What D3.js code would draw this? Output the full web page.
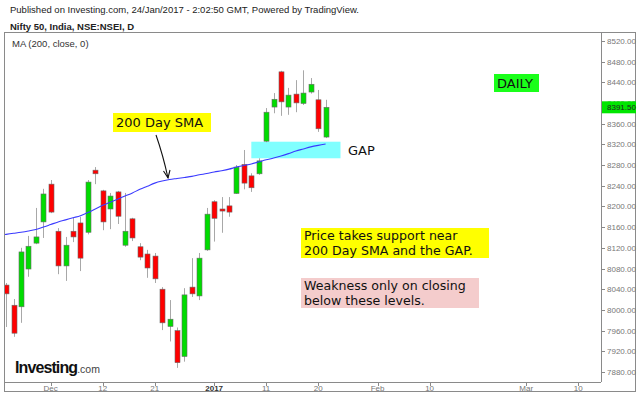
<!DOCTYPE html>
<html>
  <head>
    <meta charset="utf-8">
    <title>Nifty 50 daily</title>
    <script src="https://d3js.org/d3.v7.min.js"></script>
  </head>

  <style>
    body {
      margin: 0;
      background-color: white;
    }
    .head { font-family: 'Liberation Sans', Arial, sans-serif; fill: #222; }
    .tick { font-family: 'Liberation Sans', Arial, sans-serif; font-size: 8px; fill: #777; }
    .note { font-family: 'DejaVu Sans', Verdana, sans-serif; font-size: 13px; fill: #111; }
  </style>

  <body>
    <div id="chart"></div>
    <script>

    // trading days shown (Nov 22 is drawn but falls outside the left edge)
    var days = ['22 Nov', '23 Nov', '24 Nov', '25 Nov', '28 Nov', '29 Nov', '30 Nov',
      '1 Dec', '2 Dec', '5 Dec', '6 Dec', '7 Dec', '8 Dec', '9 Dec', '12 Dec', '13 Dec',
      '14 Dec', '15 Dec', '16 Dec', '19 Dec', '20 Dec', '21 Dec', '22 Dec', '23 Dec',
      '26 Dec', '27 Dec', '28 Dec', '29 Dec', '30 Dec', '2 Jan', '3 Jan', '4 Jan', '5 Jan',
      '6 Jan', '9 Jan', '10 Jan', '11 Jan', '12 Jan', '13 Jan', '16 Jan', '17 Jan',
      '18 Jan', '19 Jan', '20 Jan', '23 Jan'];
    var openP  = [7960, 8048, 8009, 8006, 8079, 8129, 8170, 8243, 8152, 8085, 8152, 8168,
      8150, 8270, 8230, 8195, 8228, 8125, 8176, 8122, 8108, 8104, 8040, 7968, 7960, 7910,
      8044, 8027, 8116, 8209, 8195, 8201, 8225, 8281, 8259, 8263, 8326, 8392, 8460, 8392,
      8417, 8399, 8421, 8406, 8334];
    var highP  = [8010, 8052, 8021, 8120, 8143, 8197, 8234, 8251, 8158, 8141, 8178, 8180,
      8251, 8276, 8232, 8226, 8230, 8226, 8178, 8129, 8116, 8110, 8044, 8019, 7966, 8042,
      8100, 8110, 8197, 8212, 8218, 8218, 8280, 8309, 8264, 8293, 8390, 8419, 8462, 8429,
      8444, 8463, 8448, 8425, 8406];
    var lowP   = [7950, 7967, 7948, 7975, 8064, 8127, 8139, 8187, 8069, 8056, 8131, 8075,
      8146, 8243, 8154, 8156, 8166, 8122, 8133, 8096, 8062, 8052, 7961, 7939, 7888, 7900,
      8025, 8019, 8114, 8132, 8149, 8180, 8224, 8233, 8228, 8261, 8324, 8380, 8375, 8377,
      8382, 8396, 8418, 8344, 8332];
    var closeP = [8002, 8031, 7955, 8112, 8123, 8141, 8224, 8189, 8085, 8125, 8141, 8100,
      8247, 8263, 8170, 8220, 8181, 8152, 8139, 8102, 8081, 8060, 7975, 7982, 7898, 8029,
      8031, 8100, 8185, 8177, 8191, 8189, 8276, 8245, 8236, 8288, 8382, 8407, 8402, 8415,
      8400, 8419, 8436, 8350, 8391.5];
    var sma200 = [8144, 8146, 8148, 8150, 8152.5, 8155.5, 8160, 8165, 8170, 8174, 8178,
      8182, 8188, 8195, 8202, 8208, 8214, 8220, 8226, 8233, 8239, 8245, 8249, 8252, 8254,
      8256, 8258, 8261, 8263.5, 8266.5, 8269, 8272, 8276, 8279, 8282, 8286, 8290, 8293.5,
      8297.5, 8302, 8307, 8311, 8315, 8318, 8320.5];

    // x axis labels and the bar slot they sit on (future slots count every weekday)
    var tickLabels = ['Dec', '12', '21', '2017', '11', '20', 'Feb', '10', 'Mar', '10'];
    var tickSlots  = [7, 14, 21, 29, 36, 43, 51, 58, 71, 78];
    var priceTicks = d3.range(7880, 8521, 40);
    var lastPrice = 8391.50;
    var gapLow = 8293, gapHigh = 8325, gapFrom = 34, gapTo = 46;

    var width = 640, height = 396;
    var plot = { left: 5, right: 601, top: 33, bottom: 382 };

    var xScale = d3.scaleLinear().domain([0, 80]).range([-1.3, -1.3 + 80 * 7.43]);
    var yScale = d3.scaleLinear().domain([7880, 8520]).range([372, 40.8]);
    var bodyW = 5;

    var svg = d3.select('#chart').append('svg')
      .attr('width', width)
      .attr('height', height);

    svg.append('rect').attr('width', width).attr('height', height).attr('fill', 'white');

    // header
    svg.append('text').attr('class', 'head')
      .attr('x', 10).attr('y', 13).style('font-size', '9.5px')
      .text('Published on Investing.com, 24/Jan/2017 - 2:02:50 GMT, Powered by TradingView.');
    svg.append('text').attr('class', 'head')
      .attr('x', 10).attr('y', 30).style('font-size', '9.5px').style('font-weight', 'bold')
      .text('Nifty 50, India, NSE:NSEI, D');

    // frame
    svg.append('rect')
      .attr('x', 4.5).attr('y', 32.5).attr('width', 631).attr('height', 359)
      .attr('fill', 'none').attr('stroke', '#8a8a8a');

    svg.append('defs').append('clipPath').attr('id', 'plotClip')
      .append('rect')
      .attr('x', plot.left).attr('y', plot.top)
      .attr('width', plot.right - plot.left).attr('height', plot.bottom - plot.top);

    var g = svg.append('g').attr('clip-path', 'url(#plotClip)');

    // gap zone
    g.append('rect')
      .attr('x', xScale(gapFrom)).attr('y', yScale(gapHigh))
      .attr('width', xScale(gapTo) - xScale(gapFrom))
      .attr('height', yScale(gapLow) - yScale(gapHigh))
      .attr('fill', '#80ffff');

    var idx = d3.range(days.length);

    // wicks
    g.selectAll('line.wick').data(idx).enter().append('line')
      .attr('class', 'wick')
      .attr('x1', function(i) { return Math.round(xScale(i)) + 0.5; })
      .attr('x2', function(i) { return Math.round(xScale(i)) + 0.5; })
      .attr('y1', function(i) { return yScale(highP[i]); })
      .attr('y2', function(i) { return yScale(lowP[i]); })
      .attr('stroke', '#a8a8a8')
      .attr('stroke-width', 1);

    // bodies
    g.selectAll('rect.body').data(idx).enter().append('rect')
      .attr('class', 'body')
      .attr('x', function(i) { return Math.round(xScale(i)) - 2; })
      .attr('y', function(i) { return yScale(Math.max(openP[i], closeP[i])); })
      .attr('width', bodyW)
      .attr('height', function(i) {
        return Math.max(1.5, Math.abs(yScale(openP[i]) - yScale(closeP[i])));
      })
      .attr('fill', function(i) { return closeP[i] >= openP[i] ? '#00dc00' : '#ff0000'; })
      .attr('stroke', '#6a6a6a')
      .attr('stroke-width', 0.6);

    // 200 day moving average
    var maLine = d3.line()
      .x(function(d, i) { return xScale(i); })
      .y(function(d) { return yScale(d); })
      .curve(d3.curveMonotoneX);

    g.append('path')
      .datum(sma200)
      .attr('d', maLine)
      .attr('fill', 'none')
      .attr('stroke', '#3a3aff')
      .attr('stroke-width', 1.1);

    // axes
    svg.append('line')
      .attr('x1', plot.right + 0.5).attr('x2', plot.right + 0.5)
      .attr('y1', plot.top).attr('y2', plot.bottom)
      .attr('stroke', '#8a8a8a');
    svg.append('line')
      .attr('x1', plot.left).attr('x2', plot.right)
      .attr('y1', plot.bottom + 0.5).attr('y2', plot.bottom + 0.5)
      .attr('stroke', '#8a8a8a');

    svg.append('defs').append('clipPath').attr('id', 'axisClip')
      .append('rect').attr('x', plot.right).attr('y', 39).attr('width', 40).attr('height', 350);

    var yAxis = svg.append('g').attr('clip-path', 'url(#axisClip)');
    yAxis.selectAll('line').data(priceTicks).enter().append('line')
      .attr('x1', plot.right).attr('x2', plot.right + 4)
      .attr('y1', function(d) { return Math.round(yScale(d)) + 0.5; })
      .attr('y2', function(d) { return Math.round(yScale(d)) + 0.5; })
      .attr('stroke', '#8a8a8a');
    yAxis.selectAll('text').data(priceTicks).enter().append('text')
      .attr('class', 'tick')
      .attr('x', plot.right + 6)
      .attr('y', function(d) { return yScale(d) + 3; })
      .text(function(d) { return d3.format('.2f')(d); });

    var xAxis = svg.append('g');
    xAxis.selectAll('line').data(tickSlots).enter().append('line')
      .attr('x1', function(d) { return Math.round(xScale(d)) + 0.5; })
      .attr('x2', function(d) { return Math.round(xScale(d)) + 0.5; })
      .attr('y1', plot.bottom).attr('y2', plot.bottom + 4)
      .attr('stroke', '#8a8a8a');
    xAxis.selectAll('text').data(tickSlots).enter().append('text')
      .attr('class', 'tick')
      .attr('x', function(d) { return xScale(d); })
      .attr('y', plot.bottom + 9)
      .attr('text-anchor', 'middle')
      .style('fill', function(d, i) { return tickLabels[i] === '2017' ? '#333' : '#777'; })
      .style('font-weight', function(d, i) { return tickLabels[i] === '2017' ? 'bold' : 'normal'; })
      .text(function(d, i) { return tickLabels[i]; });

    // last price tag
    svg.append('rect')
      .attr('x', plot.right + 1).attr('y', yScale(lastPrice) - 6)
      .attr('width', 34).attr('height', 12)
      .attr('fill', '#00e600');
    svg.append('text').attr('class', 'tick')
      .attr('x', plot.right + 6).attr('y', yScale(lastPrice) + 3)
      .style('fill', '#222')
      .text(d3.format('.2f')(lastPrice));

    // legend
    svg.append('text').attr('class', 'head')
      .attr('x', 12).attr('y', 47).style('font-size', '9.5px').style('fill', '#333')
      .text('MA (200, close, 0)');

    // annotations
    function noteBox(x, y, w, h, color, lines, firstY, size) {
      svg.append('rect').attr('x', x).attr('y', y).attr('width', w).attr('height', h)
        .attr('fill', color);
      lines.forEach(function(s, k) {
        svg.append('text').attr('class', 'note')
          .attr('x', x + 3).attr('y', firstY + k * 14.6)
          .style('font-size', size + 'px')
          .text(s);
      });
    }

    noteBox(113, 113, 98, 19, '#ffff00', ['200 Day SMA'], 127, 13);
    noteBox(494, 74, 45, 18, '#1aff1a', ['DAILY'], 88, 13);
    noteBox(301, 228, 188, 30, '#ffff00',
      ['Price takes support near', '200 Day SMA and the GAP.'], 240, 12.6);
    noteBox(301, 278, 178, 30, '#f4cccc',
      ['Weakness only on closing', 'below these levels.'], 290, 12.6);

    svg.append('text').attr('class', 'note')
      .attr('x', 348).attr('y', 155)
      .text('GAP');

    // arrow to the average
    svg.append('path')
      .attr('d', 'M156,135 Q163,155 168,178')
      .attr('fill', 'none').attr('stroke', '#111').attr('stroke-width', 1.1);
    svg.append('path')
      .attr('d', 'M163.5,171 L168,178 L170,170')
      .attr('fill', 'none').attr('stroke', '#111').attr('stroke-width', 1.1);

    // logo
    var logo = svg.append('text')
      .attr('x', 15).attr('y', 373)
      .style('font-family', "'Liberation Sans', Arial, sans-serif");
    logo.append('tspan').text('Investing')
      .style('font-size', '16px').style('font-weight', 'bold').style('fill', '#111')
      .style('letter-spacing', '-0.9px');
    logo.append('tspan').text('.com')
      .style('font-size', '10.5px').style('fill', '#444');

    </script>
  </body>
</html>
